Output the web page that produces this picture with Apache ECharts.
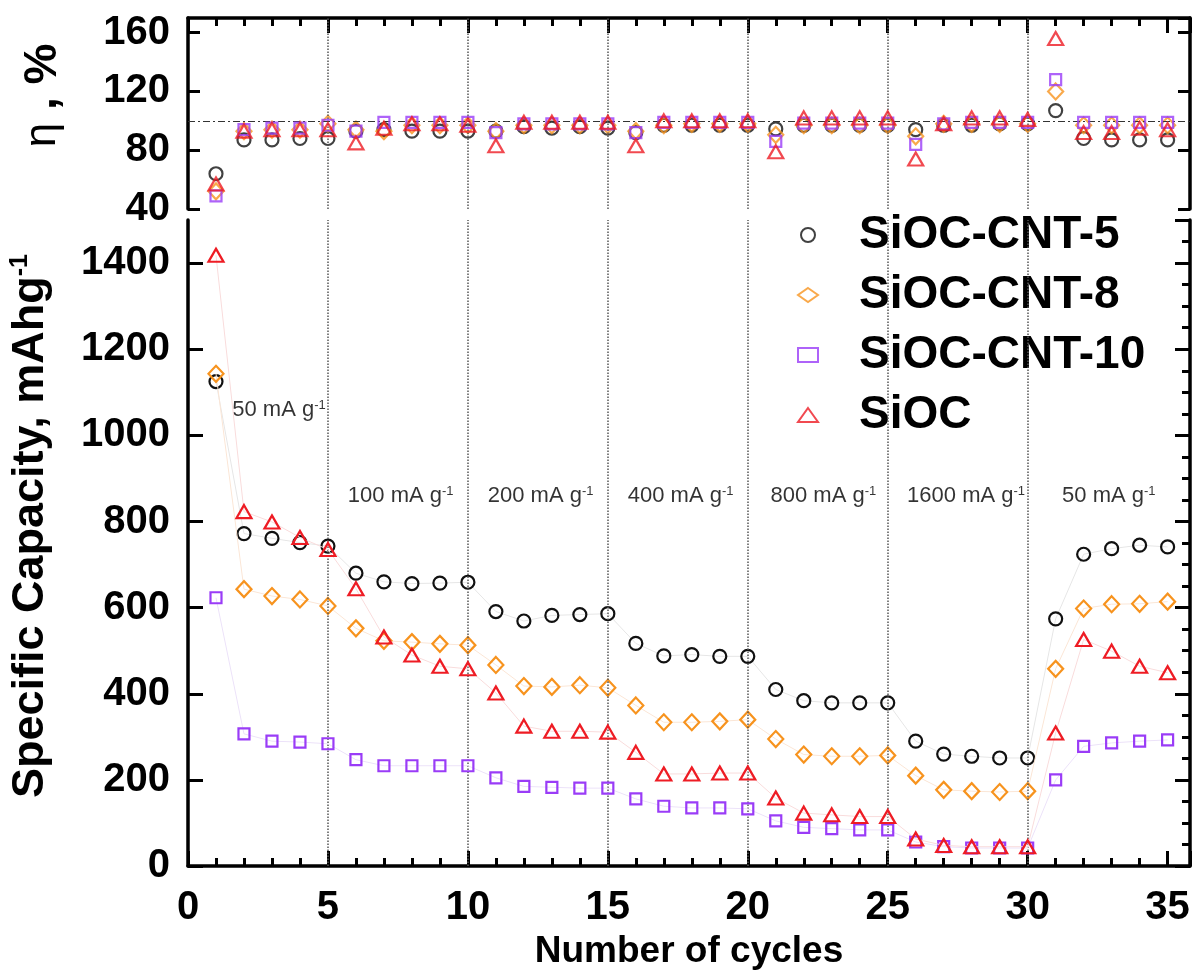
<!DOCTYPE html>
<html>
<head>
<meta charset="utf-8">
<script src="https://cdn.jsdelivr.net/npm/echarts@6/dist/echarts.min.js"></script>
<style>
    html, body { margin: 0; padding: 0; background: #fff; }
    #app { width: 1195px; height: 975px; }
</style>
</head>
<body>
<div id="app"></div>
<script>
//循环次数
var cycles = [1, 2, 3, 4, 5, 6, 7, 8, 9, 10, 11, 12, 13, 14, 15, 16, 17, 18, 19, 20,
    21, 22, 23, 24, 25, 26, 27, 28, 29, 30, 31, 32, 33, 34, 35]

var names = ['SiOC-CNT-5', 'SiOC-CNT-8', 'SiOC-CNT-10', 'SiOC']

//库伦效率 η, %
var eta5 = [64, 87, 87, 88, 88, 93, 94, 93, 93, 93, 93, 96, 95, 96, 95, 92, 97, 97, 97, 97,
    94.5, 97, 97, 97, 97, 94, 97, 97, 98, 98, 107, 88, 87, 87, 87]
var eta8 = [52, 93, 94, 94, 98, 94, 93, 97, 97, 97, 93, 97, 97, 97, 97, 93, 97, 98, 98, 98,
    90.5, 97, 97, 97, 97, 89.5, 98, 98, 98, 98, 120, 97, 97, 97, 97]
var eta10 = [49, 94, 95, 95, 97, 93, 99, 99, 99, 99, 92, 98, 98, 98, 98, 92, 99, 99, 99, 99,
    86, 98.5, 98.5, 98.5, 98.5, 84, 98, 99, 99, 99, 128, 99, 99, 99, 99]
var etaSioc = [57, 93, 94, 94, 94, 85, 95, 98, 98, 97, 83, 99, 99, 99, 99, 83, 100, 100, 100, 100,
    79, 102, 102, 102, 102, 74, 98, 102, 102, 101, 156, 92, 92, 95, 94]

//比容量 mAh/g
var cap5 = [1125, 772, 761, 751, 743, 680, 660, 656, 657, 659, 591, 569, 582, 584, 586, 517, 488, 491, 487, 487,
    410, 384, 379, 379, 379, 290, 260, 255, 251, 251, 574, 724, 737, 745, 741]
var cap8 = [1143, 643, 627, 619, 604, 552, 523, 520, 516, 513, 467, 418, 416, 420, 414, 373, 334, 334, 336, 340,
    295, 259, 255, 255, 257, 210, 177, 174, 172, 174, 458, 598, 608, 609, 614]
var cap10 = [623, 307, 290, 288, 284, 247, 233, 233, 233, 233, 205, 185, 183, 181, 181, 156, 139, 135, 135, 133,
    105, 90, 87, 84, 84, 56, 45, 42, 42, 42, 200, 278, 286, 290, 293]
var capSioc = [1418, 823, 799, 763, 735, 644, 532, 490, 464, 458, 402, 325, 313, 313, 311, 264, 214, 214, 216, 216,
    158, 123, 119, 115, 115, 63, 48, 45, 45, 45, 309, 526, 499, 464, 449]

//左侧比容量刻度文字（每 100 一格，隔一个显示）
var capTicks = ['0', '100', '200', '300', '400', '500', '600', '700', '800', '900',
    '1000', '1100', '1200', '1300', '1400', '1500']

//电流密度标注
var rateText = ['50', '100', '200', '400', '800', '1600', '50']
var rateX = [3.25, 7.6, 12.6, 17.6, 22.7, 27.8, 32.9]
var rateY = [1058, 860, 860, 860, 860, 860, 860]

//分段线 / 参考线
var stepLines = [5, 10, 15, 20, 25, 30]
var refEta = 100

var font = '"Liberation Sans", Arial, sans-serif'
var colors = ['#111111', '#f7931e', '#9a3cf7', '#ee1c24']
var lineColors = ['#e6e6e6', '#fbe6d6', '#ece2f9', '#f9dcdc']
var symbols = ['circle', 'diamond', 'rect', 'triangle']
var sizes = [13, [15, 16], 11, [15, 13]]

var zip = (ys) => cycles.map((c, i) => [c, ys[i]])

//坐标轴：刻度朝内，次刻度可选
var makeAxis = (extra, minor) => Object.assign({
    type: 'value',
    axisLine: {show: true, onZero: false, lineStyle: {color: '#000', width: 3.5}},
    axisTick: {show: true, inside: true, length: 15, lineStyle: {color: '#000', width: 3}},
    minorTick: minor
        ? {show: true, splitNumber: minor, length: 8, lineStyle: {color: '#000', width: 3}}
        : {show: false},
    axisLabel: {show: false},
    splitLine: {show: false},
    minorSplitLine: {show: false}
}, extra)

//刻度文字（不用 formatter）
var tickLabel = (margin) => ({
    show: true, margin: margin, fontSize: 40, fontWeight: 'bold', color: '#000', fontFamily: font,
    showMaxLabel: false
})

var app = echarts.init(document.getElementById('app'))

var series = []

//上图：效率散点
names.forEach((n, k) => {
    var s = {
        name: n, type: 'scatter', xAxisIndex: 0, yAxisIndex: 0,
        data: zip([eta5, eta8, eta10, etaSioc][k]),
        symbol: symbols[k], symbolSize: sizes[k],
        itemStyle: {color: 'rgba(0,0,0,0)', borderColor: colors[k], borderWidth: 2.2},
        z: 3 + k
    }
    if (k === 0) {
        s.markLine = {
            silent: true, symbol: 'none', label: {show: false},
            lineStyle: {color: '#555', type: 'dotted', width: 1.5},
            data: stepLines.map((v) => ({xAxis: v}))
                .concat([{yAxis: refEta, lineStyle: {color: '#333', type: [7, 3, 2, 3], width: 1}}])
        }
    }
    series.push(s)
})

//下图：比容量（挂在右侧数值轴上）
names.forEach((n, k) => {
    var s = {
        name: n, type: 'line', xAxisIndex: 1, yAxisIndex: 3,
        data: zip([cap5, cap8, cap10, capSioc][k]),
        symbol: symbols[k], symbolSize: sizes[k], showAllSymbol: true,
        lineStyle: {color: lineColors[k], width: 1},
        itemStyle: {color: 'rgba(0,0,0,0)', borderColor: colors[k], borderWidth: 2.2},
        z: 3 + k
    }
    if (k === 0) {
        s.markLine = {
            silent: true, symbol: 'none', label: {show: false},
            lineStyle: {color: '#555', type: 'dotted', width: 1.5},
            data: stepLines.map((v) => ({xAxis: v}))
        }
    }
    series.push(s)
})

//电流密度文字
series.push({
    type: 'scatter', xAxisIndex: 1, yAxisIndex: 3, symbolSize: 0, silent: true,
    data: rateX.map((x, i) => [x, rateY[i], rateText[i]]),
    label: {
        show: true, position: 'inside',
        formatter: (p) => `{t|${p.data[2]} mA g}{s|-1}`,
        rich: {
            t: {fontSize: 22, color: '#000', fontFamily: font},
            s: {fontSize: 13, color: '#000', fontFamily: font, verticalAlign: 'top'}
        }
    }
})

app.setOption({
    animation: false,
    grid: [
        {left: 188, right: 5, top: 18, height: 191},
        {left: 188, right: 5, top: 220, height: 648}
    ],
    legend: {
        orient: 'vertical', left: 792, top: 205,
        itemWidth: 20, itemHeight: 14, itemGap: 10,
        textStyle: {fontSize: 46, fontWeight: 'bold', color: '#000', fontFamily: font, lineHeight: 50, padding: [0, 0, 0, 36]},
        data: names.map((n, k) => ({
            name: n, icon: symbols[k],
            itemStyle: {color: 'rgba(0,0,0,0)', borderColor: colors[k], borderWidth: 2}
        }))
    },
    xAxis: [
        makeAxis({gridIndex: 0, position: 'top', min: 0, max: 35.8, interval: 5}, 5),
        makeAxis({
            gridIndex: 1, position: 'bottom', min: 0, max: 35.8, interval: 5,
            axisLabel: tickLabel(22),
            name: 'Number of cycles', nameLocation: 'middle', nameGap: 62,
            nameTextStyle: {fontSize: 37, fontWeight: 'bold', color: '#000', fontFamily: font}
        }, 5)
    ],
    yAxis: [
        makeAxis({
            gridIndex: 0, position: 'left', min: 40, max: 170, interval: 40,
            axisTick: {show: true, inside: true, length: 12, lineStyle: {color: '#000', width: 3}},
            axisLabel: tickLabel(18),
            name: '{e|η}{b| , %}', nameLocation: 'middle', nameGap: 122,
            nameTextStyle: {
                padding: [0, 0, 0, 36],
                rich: {
                    e: {fontSize: 44, color: '#000', fontFamily: font},
                    b: {fontSize: 46, fontWeight: 'bold', color: '#000', fontFamily: font}
                }
            }
        }),
        makeAxis({
            gridIndex: 0, position: 'right', min: 40, max: 170, interval: 40,
            axisTick: {show: true, inside: true, length: 12, lineStyle: {color: '#000', width: 3}}
        }),
        //左侧：类目轴只负责刻度文字和长刻度
        {
            type: 'category', gridIndex: 1, position: 'left', data: capTicks, boundaryGap: false,
            axisLine: {show: true, lineStyle: {color: '#000', width: 3.5}},
            axisTick: {show: true, inside: true, interval: 1, length: 15, lineStyle: {color: '#000', width: 3}},
            axisLabel: {show: true, interval: 1, margin: 18, fontSize: 40, fontWeight: 'bold', color: '#000', fontFamily: font},
            splitLine: {show: false},
            name: '{m|Specific Capacity, mAhg}{s|-1}', nameLocation: 'middle', nameGap: 135,
            nameTextStyle: {
                padding: [0, 0, 0, 34],
                rich: {
                    m: {fontSize: 45, fontWeight: 'bold', color: '#000', fontFamily: font},
                    s: {fontSize: 25, fontWeight: 'bold', color: '#000', fontFamily: font, verticalAlign: 'top'}
                }
            }
        },
        makeAxis({gridIndex: 1, position: 'right', min: 0, max: 1500, interval: 200}, 4)
    ],
    series: series
})
</script>
</body>
</html>
